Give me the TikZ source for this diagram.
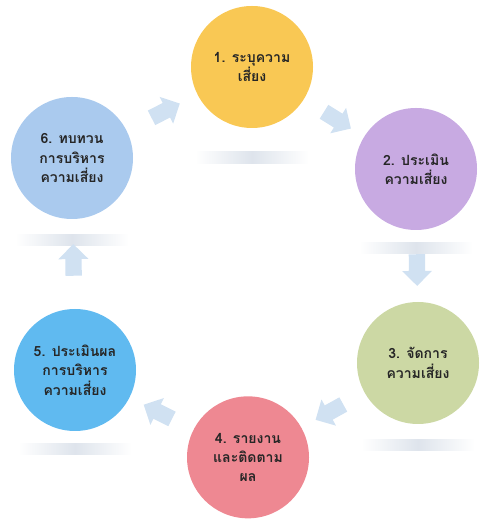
\documentclass[tikz,border=0pt]{standalone}
\usepackage{fontspec}
\newfontfamily\thaifont[Script=Thai]{Loma}
\usepackage{tikz}
\usetikzlibrary{shapes.arrows,positioning}

\definecolor{sunyellow}{RGB}{249,200,84}
\definecolor{lilac}{RGB}{200,170,226}
\definecolor{sage}{RGB}{204,216,164}
\definecolor{rose}{RGB}{238,136,146}
\definecolor{skyblue}{RGB}{96,186,240}
\definecolor{paleblue}{RGB}{170,202,238}
\definecolor{flowblue}{RGB}{208,225,242}
\definecolor{glowgrey}{RGB}{222,228,236}

\begin{document}
\begin{tikzpicture}[stage/.style={circle,minimum size=3.66cm,inner sep=0pt,align=center,
      font=\thaifont\bfseries\fontsize{12}{16.5}\selectfont,text=black!85},
    flow/.style={single arrow,fill=flowblue,minimum height=0.95cm,minimum width=0.9cm,
      single arrow head extend=0.14cm,inner xsep=0pt,inner ysep=0.16cm,sloped,allow upside down},
    glow/.style={rectangle,minimum width=3.4cm,minimum height=0.34cm,inner sep=0pt,
      left color=white,right color=white,middle color=glowgrey}]
  \useasboundingbox (0,0) rectangle (14.52,15.57);

  \node[stage,fill=sunyellow] (s1) at (7.56,13.56) {1. ระบุความ\\เสี่ยง};
  \node[stage,fill=lilac]     (s2) at (12.48,10.50) {2. ประเมิน\\ความเสี่ยง};
  \node[stage,fill=sage]      (s3) at (12.54,4.68)  {3. จัดการ\\ความเสี่ยง};
  \node[stage,fill=rose]      (s4) at (7.44,1.85)   {4. รายงาน\\และติดตาม\\ผล};
  \node[stage,fill=skyblue]   (s5) at (2.25,4.47)   {5. ประเมินผล\\การบริหาร\\ความเสี่ยง};
  \node[stage,fill=paleblue]  (s6) at (2.16,10.83)  {6. ทบทวน\\การบริหาร\\ความเสี่ยง};

  % reflections under the circles
  \node[glow,below=0.7cm of s1] (g1) {};
  \node[glow,below=0.35cm of s2] (g2) {};
  \node[glow,below=0.45cm of s3] (g3) {};
  \node[glow,below=0.35cm of s5] (g5) {};
  \node[glow,below=0.45cm of s6] (g6) {};

  \path (s1) -- node[flow] {} (s2)
        (s2) -- node[flow] {} (s3)
        (s3) -- node[flow] {} (s4)
        (s4) -- node[flow] {} (s5)
        (s5) -- node[flow] {} (s6)
        (s6) -- node[flow] {} (s1);
\end{tikzpicture}
\end{document}
